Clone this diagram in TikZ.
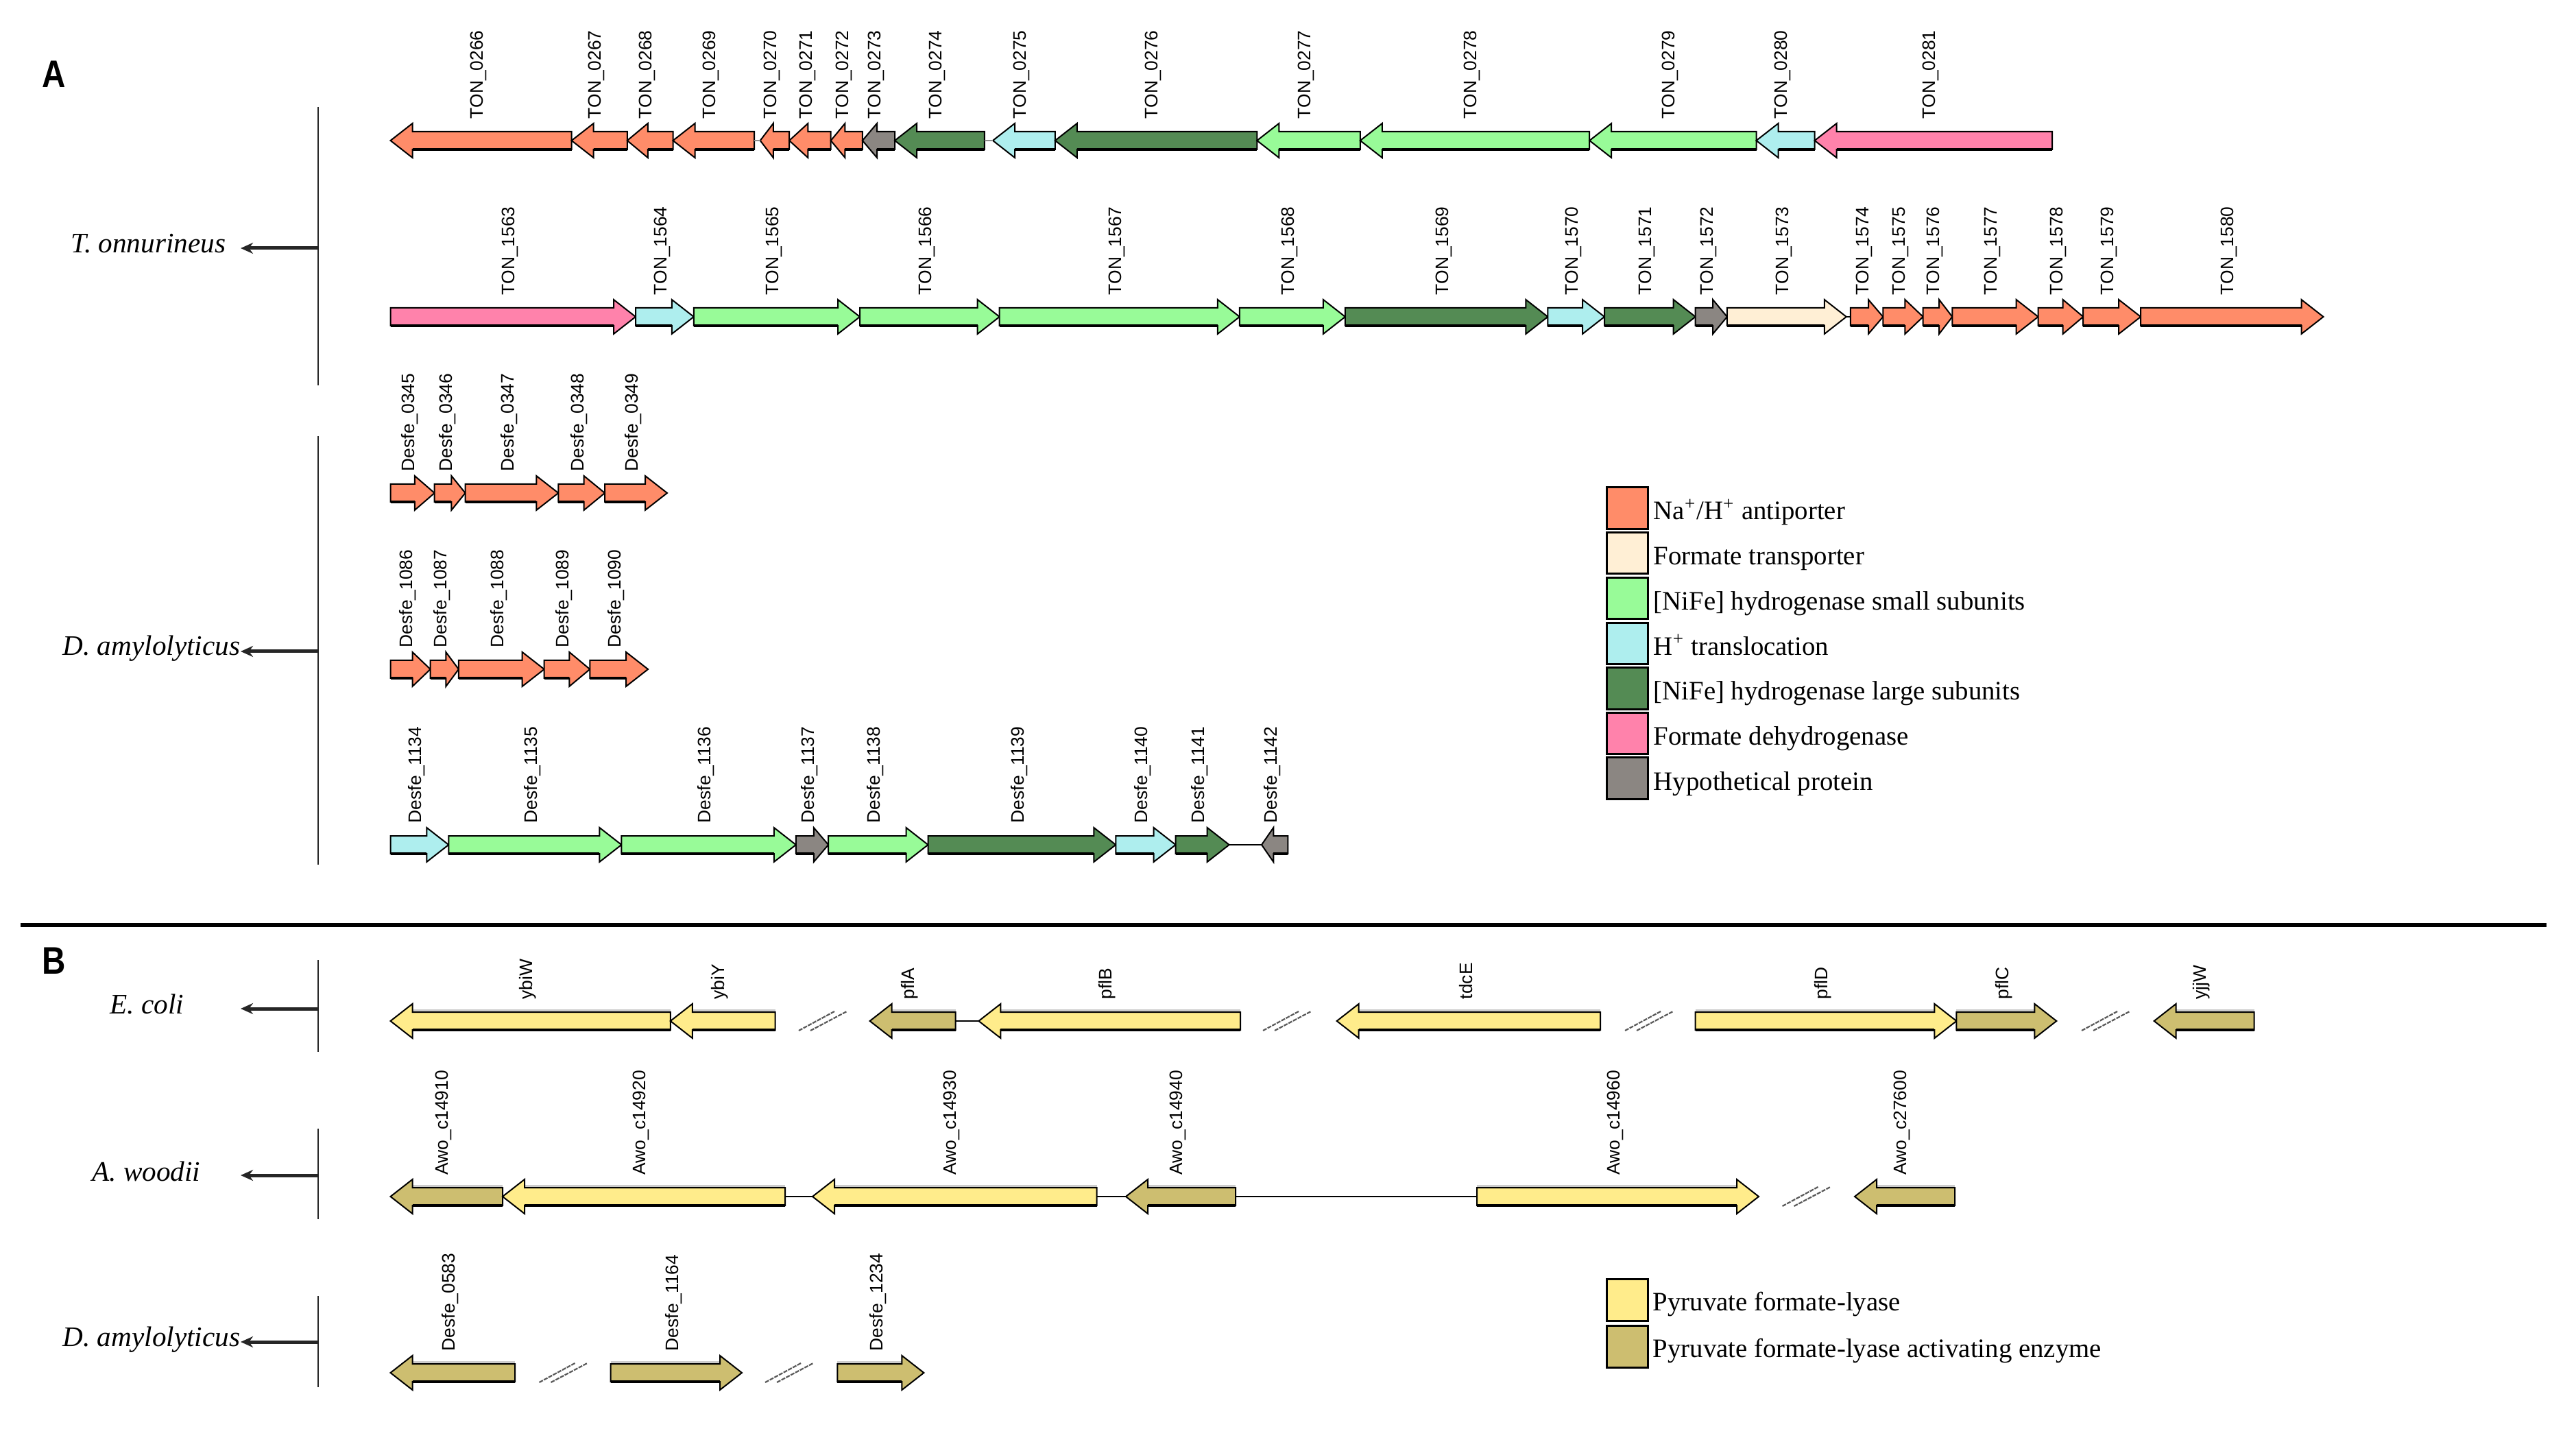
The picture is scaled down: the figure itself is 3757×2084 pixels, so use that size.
\documentclass[tikz,border=0pt]{standalone}
\usepackage{fontspec}
\usepackage{graphicx}
\setmainfont{Liberation Serif}
\setsansfont{Liberation Sans}
\usetikzlibrary{arrows.meta}
\definecolor{csalmon}{HTML}{FF8C69}
\definecolor{ccream}{HTML}{FFEFD5}
\definecolor{cltgreen}{HTML}{98FB98}
\definecolor{cltblue}{HTML}{AEEEEE}
\definecolor{cdkgreen}{HTML}{548B54}
\definecolor{cpink}{HTML}{FF82AB}
\definecolor{cgray}{HTML}{8B8682}
\definecolor{cyellow}{HTML}{FFEC8B}
\definecolor{colive}{HTML}{CDBE70}
\tikzset{
  gene/.style={draw=black,line width=0.5pt,line join=miter},
  gbottom/.style={draw=black,line width=0.9pt},
  topshade/.style={},
  glabel/.style={rotate=90,anchor=west,inner sep=0pt,font=\sffamily\fontsize{6.6}{7}\selectfont},
  glink/.style={draw=black,line width=0.5pt},
  graylink/.style={draw=black!45,line width=0.5pt},
  slashmark/.style={draw=black!65,line width=0.55pt,dash pattern=on 1.5pt off 0.4pt},
  bracket/.style={draw=black!85,line width=0.65pt},
  sparrow/.style={draw=black!85,line width=1.25pt,-{Stealth[length=4.5pt,width=4pt]}},
  spname/.style={anchor=base east,inner sep=0pt,font=\rmfamily\itshape\fontsize{10.3}{12}\selectfont},
  lbox/.style={draw=black,line width=0.75pt,minimum width=15pt,minimum height=15.2pt,inner sep=0pt},
  ltext/.style={anchor=base west,inner sep=0pt,font=\rmfamily\fontsize{9.7}{11}\selectfont},
  panel/.style={anchor=base west,inner sep=0pt,font=\sffamily\bfseries\fontsize{14}{14}\selectfont}
}
% right-pointing gene: name, x1, x2, y, colour, label
\newcommand\gR[6]{%
  \pgfmathsetmacro\ghd{min(32,0.45*(#3-#2))}%
  \pgfmathsetmacro\gbs{#3-\ghd}%
  \pgfmathsetmacro\gct{(#2+#3)/2-4}%
  \path[topshade] (#2,#4-15.5) -- (\gbs,#4-15.5);
  \filldraw[gene,fill=#5] (#2,#4-13) -- (\gbs,#4-13) -- (\gbs,#4-25) -- (#3,#4) -- (\gbs,#4+25) -- (\gbs,#4+13) -- (#2,#4+13) -- cycle;
  \draw[gbottom] (#2,#4+13) -- (\gbs,#4+13);
  \coordinate (#1-l) at (#2,#4);
  \coordinate (#1-r) at (#3,#4);
  \node[glabel] (#1) at (\gct,#4-31) {#6};
}
% left-pointing gene: name, x1 (tip), x2 (tail), y, colour, label
\newcommand\gL[6]{%
  \pgfmathsetmacro\ghd{min(32,0.45*(#3-#2))}%
  \pgfmathsetmacro\gbs{#2+\ghd}%
  \pgfmathsetmacro\gct{(#2+#3)/2-4}%
  \path[topshade] (\gbs,#4-15.5) -- (#3,#4-15.5);
  \filldraw[gene,fill=#5] (#3,#4-13) -- (\gbs,#4-13) -- (\gbs,#4-25) -- (#2,#4) -- (\gbs,#4+25) -- (\gbs,#4+13) -- (#3,#4+13) -- cycle;
  \draw[gbottom] (\gbs,#4+13) -- (#3,#4+13);
  \coordinate (#1-l) at (#2,#4);
  \coordinate (#1-r) at (#3,#4);
  \node[glabel] (#1) at (\gct,#4-31) {#6};
}
% break mark: name, x, y
\newcommand\brk[3]{%
  \coordinate (#1) at (#2,#3);
  \draw[slashmark] (#2-35,#3+14) -- (#2+17,#3-14);
  \draw[slashmark] (#2-18,#3+14) -- (#2+35,#3-14);
}
\begin{document}
\begin{tikzpicture}[x=0.25pt,y=-0.25pt]
\useasboundingbox (0,0) rectangle (3757,2084);
\fill[white] (0,0) rectangle (3757,2084);

% ---------------- Panel A ----------------
\node[panel] (pA) at (61,128) {\scalebox{0.85}[1]{A}};

% T. onnurineus
\coordinate (bT1) at (464,156);
\coordinate (bT2) at (464,562);
\draw[bracket] (bT1) -- (bT2);
\coordinate (sT0) at (464,362);
\coordinate (sT1) at (351,362);
\draw[sparrow] (sT0) -- (sT1);
\node[spname] (nT) at (330,369) {T. onnurineus};

% row TON_0266 - TON_0281
\gL{t0266}{569.5}{833.6}{205}{csalmon}{TON\_0266}
\gL{t0267}{833.6}{914.8}{205}{csalmon}{TON\_0267}
\gL{t0268}{914.8}{981.5}{205}{csalmon}{TON\_0268}
\gL{t0269}{981.5}{1100.2}{205}{csalmon}{TON\_0269}
\gL{t0270}{1108.7}{1151.1}{205}{csalmon}{TON\_0270}
\gL{t0271}{1151.1}{1211.7}{205}{csalmon}{TON\_0271}
\gL{t0272}{1211.7}{1257.8}{205}{csalmon}{TON\_0272}
\gL{t0273}{1257.8}{1305}{205}{cgray}{TON\_0273}
\gL{t0274}{1305}{1435.9}{205}{cdkgreen}{TON\_0274}
\gL{t0275}{1448}{1538.8}{205}{cltblue}{TON\_0275}
\gL{t0276}{1538.8}{1833.3}{205}{cdkgreen}{TON\_0276}
\gL{t0277}{1833.3}{1983.8}{205}{cltgreen}{TON\_0277}
\gL{t0278}{1983.8}{2318.2}{205}{cltgreen}{TON\_0278}
\gL{t0279}{2318.2}{2561.5}{205}{cltgreen}{TON\_0279}
\gL{t0280}{2561.5}{2646.6}{205}{cltblue}{TON\_0280}
\gL{t0281}{2646.6}{2993.2}{205}{cpink}{TON\_0281}
\draw[graylink] (t0269-r) -- (t0270-l);
\draw[graylink] (t0274-r) -- (t0275-l);

% row TON_1563 - TON_1580
\gR{t1563}{569.5}{927}{462}{cpink}{TON\_1563}
\gR{t1564}{927}{1011.8}{462}{cltblue}{TON\_1564}
\gR{t1565}{1011.8}{1254}{462}{cltgreen}{TON\_1565}
\gR{t1566}{1254}{1457.7}{462}{cltgreen}{TON\_1566}
\gR{t1567}{1457.7}{1807.9}{462}{cltgreen}{TON\_1567}
\gR{t1568}{1807.9}{1961.9}{462}{cltgreen}{TON\_1568}
\gR{t1569}{1961.9}{2257.4}{462}{cdkgreen}{TON\_1569}
\gR{t1570}{2257.4}{2340}{462}{cltblue}{TON\_1570}
\gR{t1571}{2340}{2472.7}{462}{cdkgreen}{TON\_1571}
\gR{t1572}{2472.7}{2518.9}{462}{cgray}{TON\_1572}
\gR{t1573}{2518.9}{2692.8}{462}{ccream}{TON\_1573}
\gR{t1574}{2698.9}{2746.3}{462}{csalmon}{TON\_1574}
\gR{t1575}{2746.3}{2804.7}{462}{csalmon}{TON\_1575}
\gR{t1576}{2804.7}{2847.3}{462}{csalmon}{TON\_1576}
\gR{t1577}{2847.3}{2972.6}{462}{csalmon}{TON\_1577}
\gR{t1578}{2972.6}{3038.2}{462}{csalmon}{TON\_1578}
\gR{t1579}{3038.2}{3122.1}{462}{csalmon}{TON\_1579}
\gR{t1580}{3122.1}{3388.5}{462}{csalmon}{TON\_1580}
\draw[glink] (t1573-r) -- (t1574-l);

% D. amylolyticus (A)
\coordinate (bD1) at (464,636);
\coordinate (bD2) at (464,1261);
\draw[bracket] (bD1) -- (bD2);
\coordinate (sD0) at (464,950);
\coordinate (sD1) at (351,950);
\draw[sparrow] (sD0) -- (sD1);
\node[spname] (nD) at (351,956) {D. amylolyticus};

\gR{d0345}{569.5}{633.7}{719}{csalmon}{Desfe\_0345}
\gR{d0346}{633.7}{678.6}{719}{csalmon}{Desfe\_0346}
\gR{d0347}{678.6}{814.3}{719}{csalmon}{Desfe\_0347}
\gR{d0348}{814.3}{882.1}{719}{csalmon}{Desfe\_0348}
\gR{d0349}{882.1}{973}{719}{csalmon}{Desfe\_0349}

\gR{d1086}{569.5}{627.7}{976}{csalmon}{Desfe\_1086}
\gR{d1087}{627.7}{668.9}{976}{csalmon}{Desfe\_1087}
\gR{d1088}{668.9}{793.7}{976}{csalmon}{Desfe\_1088}
\gR{d1089}{793.7}{860.3}{976}{csalmon}{Desfe\_1089}
\gR{d1090}{860.3}{945.1}{976}{csalmon}{Desfe\_1090}

\gR{d1134}{569.5}{654.3}{1232}{cltblue}{Desfe\_1134}
\gR{d1135}{654.3}{906.4}{1232}{cltgreen}{Desfe\_1135}
\gR{d1136}{906.4}{1160.8}{1232}{cltgreen}{Desfe\_1136}
\gR{d1137}{1160.8}{1208.1}{1232}{cgray}{Desfe\_1137}
\gR{d1138}{1208.1}{1353.5}{1232}{cltgreen}{Desfe\_1138}
\gR{d1139}{1353.5}{1627.3}{1232}{cdkgreen}{Desfe\_1139}
\gR{d1140}{1627.3}{1714.6}{1232}{cltblue}{Desfe\_1140}
\gR{d1141}{1714.6}{1792.7}{1232}{cdkgreen}{Desfe\_1141}
\gL{d1142}{1840}{1878.3}{1232}{cgray}{Desfe\_1142}
\draw[glink] (d1141-r) -- (d1142-l);

% legend A
\node[lbox,fill=csalmon]  (la1) at (2373.5,741) {};
\node[lbox,fill=ccream]   (la2) at (2373.5,806.5) {};
\node[lbox,fill=cltgreen] (la3) at (2373.5,872.5) {};
\node[lbox,fill=cltblue]  (la4) at (2373.5,938.5) {};
\node[lbox,fill=cdkgreen] (la5) at (2373.5,1004) {};
\node[lbox,fill=cpink]    (la6) at (2373.5,1069.5) {};
\node[lbox,fill=cgray]    (la7) at (2373.5,1135) {};
\node[ltext] (ta1) at (2411,758) {Na\textsuperscript{+}/H\textsuperscript{+} antiporter};
\node[ltext] (ta2) at (2411,823.5) {Formate transporter};
\node[ltext] (ta3) at (2411,889.5) {[NiFe] hydrogenase small subunits};
\node[ltext] (ta4) at (2411,955.5) {H\textsuperscript{+} translocation};
\node[ltext] (ta5) at (2411,1021) {[NiFe] hydrogenase large subunits};
\node[ltext] (ta6) at (2411,1086.5) {Formate dehydrogenase};
\node[ltext] (ta7) at (2411,1152) {Hypothetical protein};

% separator
\coordinate (sep1) at (30,1348.5);
\coordinate (sep2) at (3714,1348.5);
\draw[line width=1.5pt] (sep1) -- (sep2);

% ---------------- Panel B ----------------
\node[panel] (pB) at (61,1420) {\scalebox{0.85}[1]{B}};
\begin{scope}
\tikzset{topshade/.style={draw=black!20,line width=1pt}}

% E. coli
\coordinate (bE1) at (464,1400);
\coordinate (bE2) at (464,1534);
\draw[bracket] (bE1) -- (bE2);
\coordinate (sE0) at (464,1471);
\coordinate (sE1) at (351,1471);
\draw[sparrow] (sE0) -- (sE1);
\node[spname] (nE) at (269,1478) {E. coli};

\gL{ybiW}{569.5}{977.8}{1489}{cyellow}{ybiW}
\gL{ybiY}{977.8}{1130.5}{1489}{cyellow}{ybiY}
\brk{k1}{1200}{1489}
\gL{pflA}{1268.6}{1393.5}{1489}{colive}{pflA}
\gL{pflB}{1427.4}{1809}{1489}{cyellow}{pflB}
\draw[glink] (pflA-r) -- (pflB-l);
\brk{k2}{1877}{1489}
\gL{tdcE}{1949.7}{2334}{1489}{cyellow}{tdcE}
\brk{k3}{2405}{1489}
\gR{pflD}{2472.7}{2853.4}{1489}{cyellow}{pflD}
\gR{pflC}{2853.4}{2999.3}{1489}{colive}{pflC}
\brk{k4}{3071}{1489}
\gL{yjjW}{3141.6}{3287.6}{1489}{colive}{yjjW}

% A. woodii
\coordinate (bW1) at (464,1645.5);
\coordinate (bW2) at (464,1778);
\draw[bracket] (bW1) -- (bW2);
\coordinate (sW0) at (464,1714);
\coordinate (sW1) at (351,1714);
\draw[sparrow] (sW0) -- (sW1);
\node[spname] (nW) at (293,1722) {A. woodii};

\gL{a14910}{569.5}{733}{1745}{colive}{Awo\_c14910}
\gL{a14920}{733}{1145}{1745}{cyellow}{Awo\_c14920}
\gL{a14930}{1185}{1599.5}{1745}{cyellow}{Awo\_c14930}
\gL{a14940}{1642}{1802}{1745}{colive}{Awo\_c14940}
\gR{a14960}{2154}{2565}{1745}{cyellow}{Awo\_c14960}
\brk{k5}{2634.5}{1745}
\gL{a27600}{2705}{2851}{1745}{colive}{Awo\_c27600}
\draw[glink] (a14920-r) -- (a14930-l);
\draw[glink] (a14930-r) -- (a14940-l);
\draw[glink] (a14940-r) -- (a14960-l);

% D. amylolyticus (B)
\coordinate (bF1) at (464,1890);
\coordinate (bF2) at (464,2022.6);
\draw[bracket] (bF1) -- (bF2);
\coordinate (sF0) at (464,1957);
\coordinate (sF1) at (351,1957);
\draw[sparrow] (sF0) -- (sF1);
\node[spname] (nF) at (351,1963) {D. amylolyticus};

\gL{f0583}{569.5}{751}{2002}{colive}{Desfe\_0583}
\brk{k6}{821.5}{2002}
\gR{f1164}{890.6}{1082}{2002}{colive}{Desfe\_1164}
\brk{k7}{1151}{2002}
\gR{f1234}{1221.4}{1347.4}{2002}{colive}{Desfe\_1234}
\end{scope}

% legend B
\node[lbox,fill=cyellow] (lb1) at (2373,1896) {};
\node[lbox,fill=colive]  (lb2) at (2373,1964) {};
\node[ltext] (tb1) at (2410,1911) {Pyruvate formate-lyase};
\node[ltext] (tb2) at (2410,1979) {Pyruvate formate-lyase activating enzyme};
\end{tikzpicture}
\end{document}
